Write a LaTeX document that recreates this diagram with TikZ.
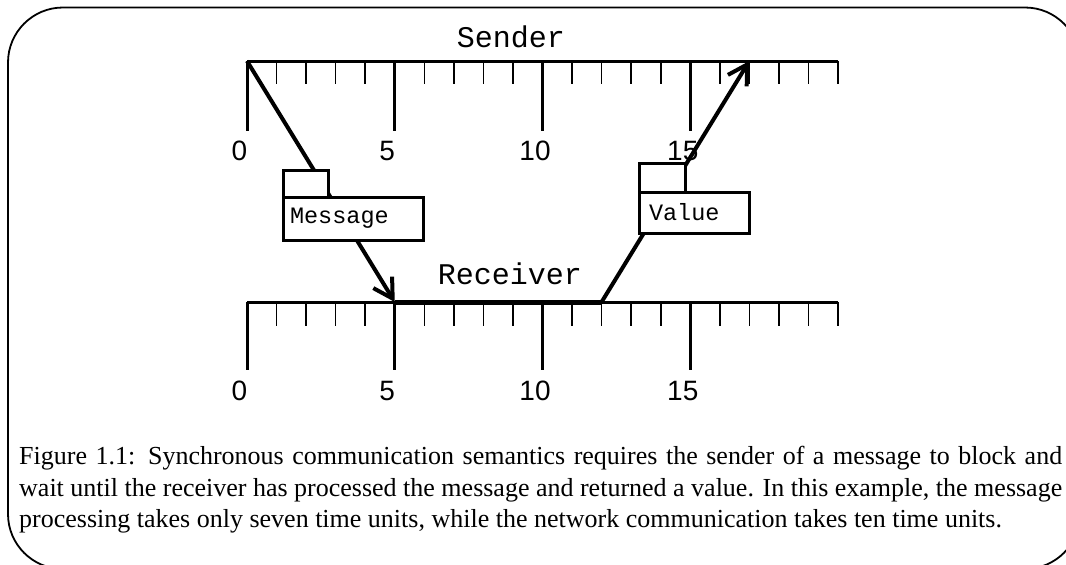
\documentclass[tikz,border=0pt]{standalone}
\usepackage{fontspec}
\setmainfont{Liberation Serif}
\newfontfamily\monofont{Liberation Mono}
\newfontfamily\numfont{Liberation Sans}
\usetikzlibrary{arrows.meta,calc,positioning}

\tikzset{
  axisline/.style={line width=3pt},
  minortick/.style={line width=1.6pt},
  majortick/.style={line width=3pt},
  busyline/.style={line width=5pt},
  msgline/.style={line width=4pt,-{Straight Barb[angle=60:22pt]}},
  num/.style={font=\numfont\fontsize{28}{28}\selectfont,anchor=base,inner sep=0pt},
  lane/.style={font=\monofont\fontsize{30}{30}\selectfont,anchor=base,inner sep=0pt},
  msgbox/.style={draw,fill=white,line width=3pt,outer sep=0pt,inner xsep=7pt,
    align=left,font=\monofont\fontsize{23.5}{24}\selectfont},
  tabbox/.style={draw,fill=white,line width=3pt,outer sep=0pt,inner sep=0pt},
  capline/.style={anchor=base west,inner sep=0pt,font=\fontsize{26}{31}\selectfont}
}

\begin{document}
\begin{tikzpicture}[x=1pt,y=-1pt]
  \useasboundingbox (0,0) rectangle (1066,565);
  \begin{scope}
    \clip (0,0) rectangle (1066,565);
    \draw[line width=1.8pt,rounded corners=55pt] (8,7.5) rectangle (1080,569);
  \end{scope}

  % time lines
  \foreach \i in {0,...,20} {
    \coordinate (snd-\i) at ({247+29.55*\i},61);
    \coordinate (rcv-\i) at ({247+29.55*\i},302);
  }
  \draw[axisline] (snd-0) -- (snd-20);
  \draw[axisline] (rcv-0) -- (rcv-20);
  \foreach \i in {1,2,3,4,6,7,8,9,11,12,13,14,16,17,18,19,20} {
    \draw[minortick] (snd-\i) -- ++(0,23);
    \draw[minortick] (rcv-\i) -- ++(0,24);
  }
  \foreach \i in {0,5,10,15} {
    \draw[majortick] (snd-\i) -- ++(0,70);
    \draw[majortick] (rcv-\i) -- ++(0,68);
    \node[num] (snd-lab-\i) at ($(snd-\i)+(-7.5,99)$) {\i};
    \node[num] (rcv-lab-\i) at ($(rcv-\i)+(-7.5,98)$) {\i};
  }
  \node[lane] (sender) at (511,47) {Sender};
  \node[lane] (receiver) at (510,284) {Receiver};

  % request, processing, reply
  \draw[busyline] (rcv-5) -- (rcv-12);
  \draw[msgline] (snd-0) -- (rcv-5);
  \draw[msgline] (rcv-12) -- (snd-17);

  \node[msgbox,text width=126pt,minimum height=43pt,anchor=north west]
    (msg) at (283,197) {Message};
  \node[tabbox,minimum width=45pt,minimum height=27pt,anchor=south west]
    (msg-tab) at (msg.north west) {};
  \node[msgbox,text width=90pt,inner xsep=10pt,minimum height=41pt,
    anchor=north west] (val) at (639,192) {Value};
  \node[tabbox,minimum width=46pt,minimum height=29pt,anchor=south west]
    (val-tab) at (val.north west) {};

  % caption
  \node[capline] (cap-1) at (19,464) {\makebox[1043pt][s]{Figure 1.1: Synchronous
    communication semantics requires the sender of a message to block and}};
  \node[capline] (cap-2) at (19,496) {\makebox[1043pt][s]{wait until the receiver
    has processed the message and returned a value. In this example, the message}};
  \node[capline] (cap-3) at (19,527) {processing takes only seven time units, while
    the network communication takes ten time units.};
\end{tikzpicture}
\end{document}
